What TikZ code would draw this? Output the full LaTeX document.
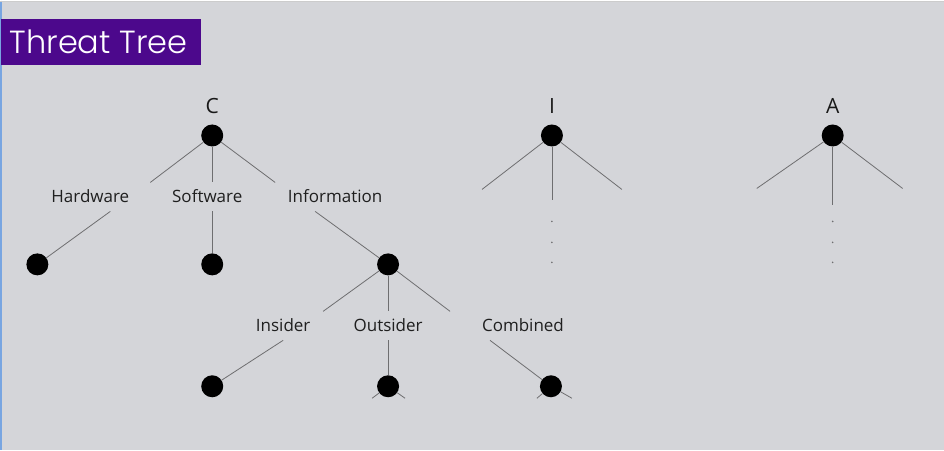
\documentclass[tikz,border=0pt]{standalone}
\usepackage{fontspec}
\setmainfont{Open Sans}
\newfontfamily\titlefont{Poppins Light}
\definecolor{slidebg}{RGB}{212,213,217}
\definecolor{titlebg}{RGB}{76,8,140}
\definecolor{edgeblue}{RGB}{120,165,225}
\definecolor{branchgray}{RGB}{110,110,112}

\begin{document}
\begin{tikzpicture}[x=1pt,y=-1pt,
    dot/.style={circle,fill=black,inner sep=0pt,minimum size=22pt},
    branch/.style={draw=branchgray,line width=0.8pt},
    lbl/.style={anchor=base,inner sep=0pt,font=\fontsize{17}{20}\selectfont,text=black!88},
    root/.style={anchor=base,inner sep=0pt,font=\fontsize{21}{24}\selectfont,text=black!90}]
    % slide background
    \fill [slidebg] (0,0) rectangle (944,450);
    \draw [edgeblue, line width=1.2pt] (0.6,0) -- (0.6,450);
    \draw [black!20, line width=0.8pt] (0,0.4) -- (944,0.4);

    % title
    \fill [titlebg] (1,18) rectangle (201,64);
    \node [anchor=base west, inner sep=0pt, text=white, font=\titlefont\fontsize{32}{35}\selectfont] (title) at (9,53){Threat Tree};

    % roots
    \node [root] (labC) at (212,113){C};
    \node [root] (labI) at (552,113){I};
    \node [root] (labA) at (833,113){A};
    \node [dot] (C) at (212,135){};
    \node [dot] (I) at (552,135){};
    \node [dot] (A) at (833,135){};

    % first level under C
    \node [lbl] (hw) at (90,202){Hardware};
    \node [lbl] (sw) at (207,202){Software};
    \node [lbl] (info) at (335,202){Information};
    \coordinate (hwT) at (150,182);  \coordinate (hwB) at (110,211);
    \coordinate (swT) at (212,182);  \coordinate (swB) at (212,211);
    \coordinate (infoT) at (275,182);  \coordinate (infoB) at (315,211);
    \node [dot] (hwLeaf) at (37,264){};
    \node [dot] (swLeaf) at (212,264){};
    \node [dot] (infoLeaf) at (388,264){};
    \draw [branch] (C) -- (hwT);  \draw [branch] (hwB) -- (hwLeaf);
    \draw [branch] (C) -- (swT);  \draw [branch] (swB) -- (swLeaf);
    \draw [branch] (C) -- (infoT);  \draw [branch] (infoB) -- (infoLeaf);

    % second level under Information
    \node [lbl] (ins) at (283,331){Insider};
    \node [lbl] (outs) at (388,331){Outsider};
    \node [lbl] (comb) at (523,331){Combined};
    \coordinate (insT) at (323,311);  \coordinate (insB) at (283,340);
    \coordinate (outsT) at (388,311);  \coordinate (outsB) at (388,340);
    \coordinate (combT) at (450,311);  \coordinate (combB) at (490,340);
    \node [dot] (insLeaf) at (212,386){};
    \node [dot] (outsLeaf) at (388,386){};
    \node [dot] (combLeaf) at (551,386){};
    \draw [branch] (infoLeaf) -- (insT);  \draw [branch] (insB) -- (insLeaf);
    \draw [branch] (infoLeaf) -- (outsT);  \draw [branch] (outsB) -- (outsLeaf);
    \draw [branch] (infoLeaf) -- (combT);  \draw [branch] (combB) -- (combLeaf);

    % stubs cut off at the bottom
    \coordinate (o1) at (372,398);  \coordinate (o2) at (405,398);
    \coordinate (c1) at (537,398);  \coordinate (c2) at (572,398);
    \draw [branch] (outsLeaf) -- (o1);  \draw [branch] (outsLeaf) -- (o2);
    \draw [branch] (combLeaf) -- (c1);  \draw [branch] (combLeaf) -- (c2);

    % I and A branches
    \coordinate (iL) at (482,189);  \coordinate (iM) at (552,200);  \coordinate (iR) at (622,189);
    \coordinate (aL) at (757,188);  \coordinate (aM) at (833,205);  \coordinate (aR) at (903,188);
    \draw [branch] (I) -- (iL);  \draw [branch] (I) -- (iM);  \draw [branch] (I) -- (iR);
    \draw [branch] (A) -- (aL);  \draw [branch] (A) -- (aM);  \draw [branch] (A) -- (aR);
    \foreach \y in {221,242,262}{
        \fill [branchgray] (552,\y) circle [radius=0.9];
        \fill [branchgray] (833,\y) circle [radius=0.9];
    }
\end{tikzpicture}
\end{document}
